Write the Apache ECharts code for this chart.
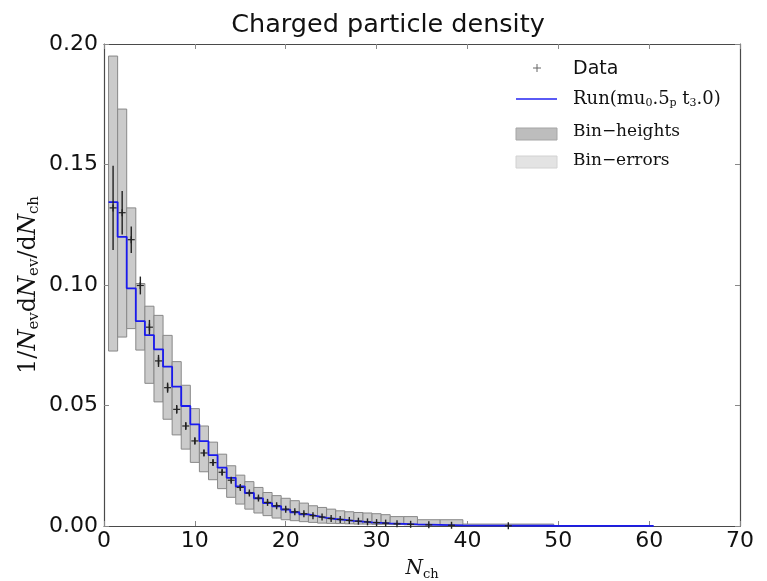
<!DOCTYPE html>
<html><head><meta charset="utf-8">
<script src="https://cdn.jsdelivr.net/npm/echarts@6/dist/echarts.min.js"></script>
<style>html,body{margin:0;padding:0;background:#fff}#c{width:767px;height:581px}</style>
</head><body><div id="c"></div>
<script>
// ---- data ----
const binLow  = [0.5,1.5,2.5,3.5,4.5,5.5,6.5,7.5,8.5,9.5,10.5,11.5,12.5,13.5,14.5,15.5,16.5,17.5,18.5,19.5,20.5,21.5,22.5,23.5,24.5,25.5,26.5,27.5,28.5,29.5,30.5,31.5,33,34.5,37,39.5];
const binHigh = [1.5,2.5,3.5,4.5,5.5,6.5,7.5,8.5,9.5,10.5,11.5,12.5,13.5,14.5,15.5,16.5,17.5,18.5,19.5,20.5,21.5,22.5,23.5,24.5,25.5,26.5,27.5,28.5,29.5,30.5,31.5,33,34.5,37,39.5,49.5];
const mcValues = [0.1344,0.1200,0.0986,0.0850,0.0792,0.0733,0.0661,0.0578,0.0498,0.0422,0.0352,0.0294,0.0242,0.0200,0.0164,0.0137,0.0115,0.0095,0.0082,0.0068,0.0057,0.0048,0.0041,0.0034,0.0029,0.0025,0.0021,0.0018,0.0015,0.0013,0.0011,0.0009,0.0007,0.0005,0.0003,0.0001];
const mcTailLow = 49.5, mcTailHigh = 60.5, mcTailValue = 0.00002;
const dataValues = [0.132,0.130,0.1188,0.0998,0.0825,0.0685,0.0574,0.0484,0.0415,0.0353,0.0303,0.0263,0.0223,0.0190,0.0160,0.0137,0.0116,0.0098,0.0084,0.0070,0.0059,0.0051,0.0043,0.0037,0.0031,0.0027,0.0023,0.0020,0.0017,0.0014,0.0012,0.0009,0.0007,0.0005,0.0003,0.0001];
const dataErrors = [0.0175,0.009,0.0055,0.0037,0.0030,0.0025,0.0021,0.0018,0.0016,0.0014,0.0013,0.0012,0.0011,0.0010,0.0009,0.0008,0.0008,0.0007,0.0007,0.0006,0.0006,0.0005,0.0005,0.0004,0.0004,0.0004,0.0003,0.0003,0.0003,0.0003,0.0002,0.0002,0.0002,0.0001,0.0001,0.0001];
const bandLow  = [0.0726,0.0784,0.0819,0.0730,0.0592,0.0515,0.0443,0.0378,0.0319,0.0264,0.0225,0.0192,0.0155,0.0119,0.0091,0.0070,0.0054,0.0043,0.0033,0.0026,0.0022,0.0018,0.0015,0.0012,0.0011,0.0010,0.0009,0.0008,0.0008,0.0007,0.0007,0.0006,0.0005,0.0004,0.0003,0.0001];
const bandHigh = [0.195,0.173,0.132,0.1006,0.0912,0.0874,0.0791,0.0682,0.0584,0.0487,0.0415,0.0348,0.0298,0.0250,0.0211,0.0184,0.0160,0.0139,0.0126,0.0115,0.0105,0.0095,0.0084,0.0077,0.0070,0.0063,0.0059,0.0056,0.0054,0.0051,0.0047,0.0039,0.0039,0.0026,0.0026,0.0008];
const xTicks = [0,10,20,30,40,50,60,70];
const yTicks = [0.00,0.05,0.10,0.15,0.20];

// ---- derived series data ----
const boxData = binLow.map((l,i)=>[l,binHigh[i],bandLow[i],bandHigh[i]]);
const stepData = [];
binLow.forEach((l,i)=>{ stepData.push([l,mcValues[i]]); stepData.push([binHigh[i],mcValues[i]]); });
stepData.push([mcTailLow,mcTailValue]); stepData.push([mcTailHigh,mcTailValue]);
const pointData = binLow.map((l,i)=>[(l+binHigh[i])/2,dataValues[i],dataErrors[i]]);

const serif = 'DejaVu Serif';
const sans = 'DejaVu Sans';
const chart = echarts.init(document.getElementById('c'));
const axisCommon = {
  type:'value', min:0, splitLine:{show:false},
  axisLine:{show:true,onZero:false,lineStyle:{color:'#4a4a4a',width:1.2}},
  axisTick:{show:true,inside:true,length:5,lineStyle:{color:'#888',width:1}}
};
chart.setOption({
  animation:false,
  backgroundColor:'#fff',
  title:{text:'Charged particle density',left:383,top:7,textAlign:'center',
    textStyle:{fontFamily:sans,fontSize:25.5,fontWeight:'normal',color:'#111'}},
  grid:{left:104,right:27,top:44,bottom:55,outerBoundsMode:'none',containLabel:false},
  xAxis:[
    Object.assign({},axisCommon,{position:'bottom',max:70,interval:10,
      axisLabel:{fontFamily:sans,fontSize:22,color:'#111',margin:4,formatter:v=>String(xTicks[Math.round(v/10)])}, 
      name:'{i|N}{s|ch}',nameLocation:'middle',nameGap:31,nameMoveOverlap:false,
      nameTextStyle:{fontFamily:serif,fontSize:20,color:'#111',
        rich:{i:{fontFamily:serif,fontStyle:'italic',fontSize:20,color:'#111'},
              s:{fontFamily:serif,fontSize:13,color:'#111',padding:[11,0,0,0]}}}}),
    Object.assign({},axisCommon,{position:'top',max:70,interval:10,axisLabel:{show:false}})
  ],
  yAxis:[
    Object.assign({},axisCommon,{position:'left',max:0.2,interval:0.05,
      axisLabel:{fontFamily:sans,fontSize:22,color:'#111',margin:6,formatter:v=>v.toFixed(2)},
      name:'1/{i|N}{s|ev}d{i|N}{s|ev}/d{i|N}{s|ch}',nameLocation:'middle',nameGap:62,nameRotate:90,nameMoveOverlap:false,
      nameTextStyle:{fontFamily:serif,fontSize:24,color:'#111',
        rich:{i:{fontFamily:serif,fontStyle:'italic',fontSize:24,color:'#111'},
              s:{fontFamily:serif,fontSize:15,color:'#111',padding:[12,0,0,0]}}}}),
    Object.assign({},axisCommon,{position:'right',max:0.2,interval:0.05,axisLabel:{show:false}})
  ],
  series:[
    {name:'Bin\u2212heights',type:'custom',data:boxData,clip:true,z:2,
      renderItem:(p,api)=>{
        const a=api.coord([api.value(0),api.value(2)]);
        const b=api.coord([api.value(1),api.value(3)]);
        return {type:'rect',shape:{x:a[0],y:b[1],width:b[0]-a[0],height:a[1]-b[1]},
          style:{fill:'#cbcbcb',stroke:'#888',lineWidth:1}};
      }},
    {name:'Run',type:'line',data:stepData,showSymbol:false,symbol:'none',z:3,
      lineStyle:{color:'#1a1aee',width:1.8}},
    {name:'Data',type:'custom',data:pointData,z:4,
      renderItem:(p,api)=>{
        const c=api.coord([api.value(0),api.value(1)]);
        const t=api.coord([api.value(0),api.value(1)+api.value(2)]);
        const b=api.coord([api.value(0),api.value(1)-api.value(2)]);
        return {type:'group',children:[
          {type:'line',shape:{x1:c[0],y1:t[1],x2:c[0],y2:b[1]},style:{stroke:'#222',lineWidth:1.4}},
          {type:'line',shape:{x1:c[0]-3.5,y1:c[1],x2:c[0]+3.5,y2:c[1]},style:{stroke:'#222',lineWidth:1.2}},
          {type:'line',shape:{x1:c[0],y1:c[1]-3.5,x2:c[0],y2:c[1]+3.5},style:{stroke:'#222',lineWidth:1.4}}
        ]};
      }}
  ],
  graphic:[
    {type:'line',shape:{x1:533,y1:68,x2:541,y2:68},style:{stroke:'#666',lineWidth:1}},
    {type:'line',shape:{x1:537,y1:64,x2:537,y2:72},style:{stroke:'#666',lineWidth:1}},
    {type:'text',x:573,y:69,style:{text:'Data',font:'19px "DejaVu Sans"',fill:'#111',
      align:'left',verticalAlign:'middle',textAlign:'left',textVerticalAlign:'middle'}},
    {type:'line',shape:{x1:516,y1:99,x2:557,y2:99},style:{stroke:'#5a5af5',lineWidth:1.8}},
    {type:'text',x:573,y:99,style:{text:'Run(mu{s|0}.5{s|p} t{s|3}.0)',font:'18px "DejaVu Serif"',fill:'#111',
      align:'left',verticalAlign:'middle',textAlign:'left',textVerticalAlign:'middle',
      rich:{s:{fontFamily:serif,fontSize:11,fill:'#111',color:'#111',padding:[9,0,0,0]}}}},
    {type:'rect',shape:{x:516,y:128,width:41,height:12},style:{fill:'#bdbdbd',stroke:'#a5a5a5',lineWidth:1}},
    {type:'text',x:573,y:132,style:{text:'Bin\u2212heights',font:'17px "DejaVu Serif"',fill:'#111',
      align:'left',verticalAlign:'middle',textAlign:'left',textVerticalAlign:'middle'}},
    {type:'rect',shape:{x:516,y:156,width:41,height:12},style:{fill:'#e3e3e3',stroke:'#d2d2d2',lineWidth:1}},
    {type:'text',x:573,y:161,style:{text:'Bin\u2212errors',font:'17px "DejaVu Serif"',fill:'#111',
      align:'left',verticalAlign:'middle',textAlign:'left',textVerticalAlign:'middle'}}
  ]
});
</script></body></html>
